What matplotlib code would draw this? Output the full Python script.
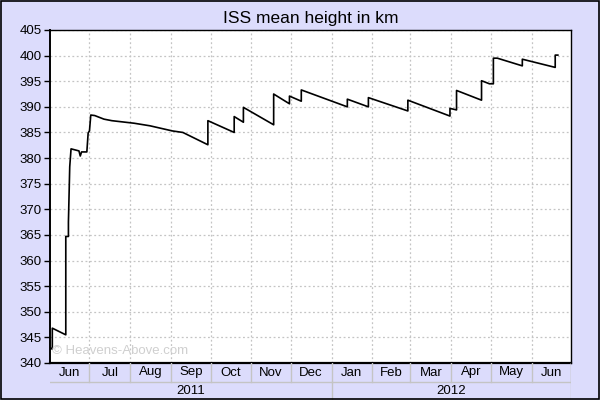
import matplotlib
matplotlib.use("Agg")
from matplotlib import pyplot as plt
import matplotlib.dates as mdates
import pandas as pd

# ISS mean height (km)
dates = ["2011-06-01 00:00", "2011-06-02 18:00", "2011-06-02 18:00", "2011-06-13", "2011-06-13",
         "2011-06-15", "2011-06-15", "2011-06-16", "2011-06-17",
         "2011-06-23", "2011-06-24", "2011-06-25", "2011-06-29", "2011-06-30",
         "2011-07-01", "2011-07-02", "2011-07-05", "2011-07-12", "2011-07-18",
         "2011-08-04", "2011-08-16", "2011-09-02", "2011-09-10", "2011-09-29",
         "2011-09-29", "2011-10-19", "2011-10-19", "2011-10-26", "2011-10-26",
         "2011-11-18", "2011-11-18", "2011-11-30", "2011-11-30", "2011-12-09",
         "2011-12-09", "2012-01-13", "2012-01-13", "2012-01-29", "2012-01-29",
         "2012-02-28", "2012-02-28", "2012-03-31", "2012-03-31", "2012-04-05",
         "2012-04-05", "2012-04-24", "2012-04-24", "2012-04-30", "2012-05-03",
         "2012-05-03", "2012-05-06", "2012-05-25", "2012-05-25", "2012-06-19",
         "2012-06-19", "2012-06-21"]
height = [343.0, 342.7, 346.8, 345.5, 364.7,
          364.7, 367.5, 378.3, 381.8,
          381.4, 380.4, 381.2, 381.2, 384.9,
          385.3, 388.4, 388.3, 387.6, 387.3,
          386.8, 386.3, 385.3, 385.0, 382.6,
          387.3, 385.0, 388.1, 387.0, 389.9,
          386.5, 392.5, 390.6, 392.1, 391.1,
          393.3, 390.0, 391.5, 390.0, 391.8,
          389.2, 391.3, 388.2, 389.7, 389.4,
          393.2, 391.3, 395.1, 394.5, 394.5,
          399.5, 399.5, 398.0, 399.3, 397.7,
          400.1, 400.1]

months = ["Jun", "Jul", "Aug", "Sep", "Oct", "Nov", "Dec",
          "Jan", "Feb", "Mar", "Apr", "May", "Jun"]
month_starts = pd.date_range("2011-06-01", "2012-07-01", freq="MS")
years = ["2011", "2012"]
year_edges = ["2011-06-01", "2012-01-01", "2012-07-01"]
yticks = list(range(340, 406, 5))

bg = "#dcdcfc"
fnt = "Liberation Sans"
plt.rcParams["font.family"] = [fnt, "DejaVu Sans"]

fig = plt.figure(figsize=(6, 4), dpi=100)
fig.patch.set_facecolor(bg)

x0, x1 = mdates.date2num(month_starts[0]), mdates.date2num(month_starts[-1])
edges = mdates.date2num(month_starts)

ax = fig.add_axes([50 / 600, 37 / 400, 521 / 600, 333 / 400])
ax.set_facecolor("white")
ax.plot(mdates.date2num(pd.to_datetime(dates, format="mixed")), height, color="black", lw=1.2)
ax.set_xlim(x0, x1)
ax.set_ylim(340, 405)
ax.set_yticks(yticks)
ax.set_xticks(edges[1:-1])
ax.set_xticklabels([])
ax.tick_params(axis="x", length=0)
ax.tick_params(axis="y", length=4, width=1, labelsize=9.5, pad=2)
ax.grid(True, color="#c4c4c4", linestyle=(0, (1.5, 2)), lw=0.9)
for s in ax.spines.values():
    s.set_color("black")
    s.set_linewidth(1.0)
ax.spines["left"].set_linewidth(1.4)
ax.spines["bottom"].set_linewidth(1.6)
ax.text(0.004, 0.018, "\u00a9 Heavens-Above.com", transform=ax.transAxes,
        color="#cfcfcf", fontsize=9.5, ha="left", va="bottom")
ax.set_title("ISS mean height in km", fontsize=12.5, pad=5)

# month / year label rows below the plot
lab = fig.add_axes([50 / 600, 0, 521 / 600, 37 / 400])
lab.set_xlim(x0, x1)
lab.set_ylim(0, 37)
lab.axis("off")
lab.patch.set_visible(False)
lab.axhline(18.5, color="#c4c4c4", lw=1)
for e in edges[1:]:
    lab.plot([e, e], [18.5, 37], color="#c4c4c4", lw=1)
for i, m in enumerate(months):
    c = (edges[i] + edges[i + 1]) / 2
    lab.text(c, 27.5, m, ha="center", va="center", fontsize=9.5)
ye = mdates.date2num(pd.to_datetime(year_edges))
lab.plot([ye[1], ye[1]], [0, 18.5], color="#c4c4c4", lw=1)
lab.plot([ye[2], ye[2]], [0, 37], color="#c4c4c4", lw=1)
for i, y in enumerate(years):
    lab.text((ye[i] + ye[i + 1]) / 2, 9, y, ha="center", va="center", fontsize=9.5)

fig.add_artist(plt.Rectangle((0.001, 0.0015), 0.998, 0.997, transform=fig.transFigure,
                             fill=False, edgecolor="black", lw=1.2))

fig.savefig("out.png", dpi=100, facecolor=bg)
